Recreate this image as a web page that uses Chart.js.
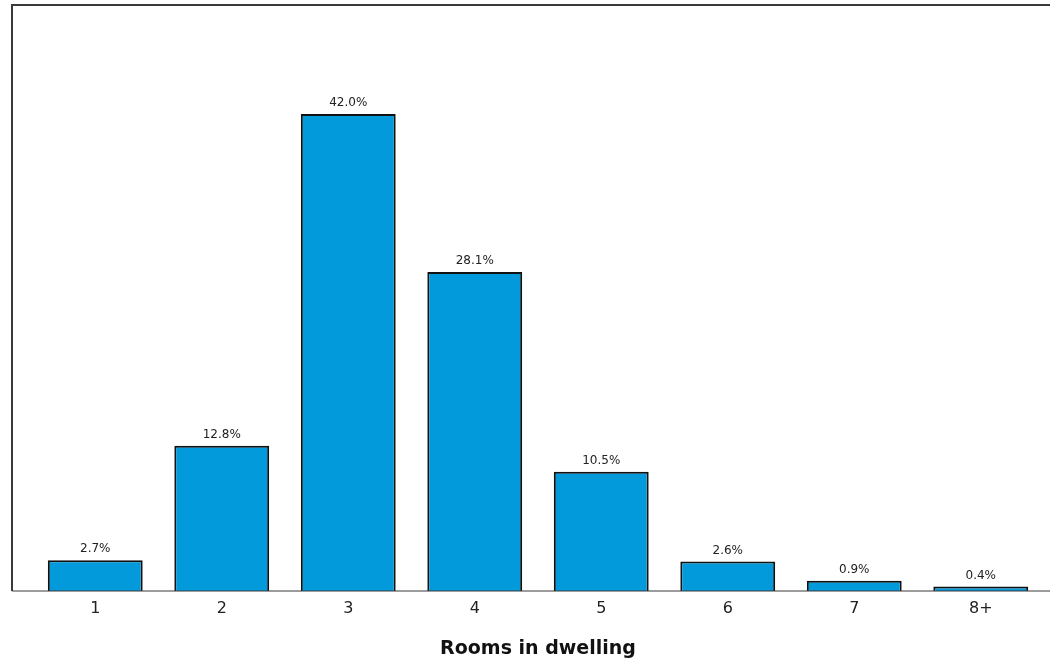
<!DOCTYPE html>
<html>
<head>
<meta charset="utf-8">
<script src="https://cdn.jsdelivr.net/npm/chart.js@4"></script>
<style>
  html, body { margin: 0; padding: 0; background: #fff; }
  #wrap { width: 1050px; height: 664px; }
</style>
</head>
<body>
<div id="wrap"><canvas id="grafico" width="1050" height="664"></canvas></div>
<script>
// Dados do gráfico
const rooms = ['1', '2', '3', '4', '5', '6', '7', '8+'];
const percent = [2.7, 12.8, 42.0, 28.1, 10.5, 2.6, 0.9, 0.4];
const axisTitle = 'Rooms in dwelling';

// Moldura: linha superior, esquerda e linha de base
const frame = {
    id: 'frame',
    afterDraw(chart) {
        const c = chart.ctx;
        const base = chart.scales.y.getPixelForValue(0);
        c.save();
        c.strokeStyle = '#3a3a3a';
        c.lineWidth = 2;
        c.beginPath();
        c.moveTo(1050, 5);
        c.lineTo(12, 5);
        c.lineTo(12, base);
        c.stroke();
        c.lineWidth = 1.2;
        c.beginPath();
        c.moveTo(12, base);
        c.lineTo(1050, base);
        c.stroke();
        c.restore();
    }
};

// Rótulos de porcentagem acima das barras
const valueLabels = {
    id: 'valueLabels',
    afterDatasetsDraw(chart) {
        const c = chart.ctx;
        const meta = chart.getDatasetMeta(0);
        c.save();
        c.font = '12px "DejaVu Sans"';
        c.fillStyle = '#222';
        c.textAlign = 'center';
        c.textBaseline = 'bottom';
        meta.data.forEach((bar, i) => {
            c.fillText(percent[i].toFixed(1) + '%', bar.x, bar.y - 5);
        });
        c.restore();
    }
};

const ctx = document.getElementById('grafico').getContext('2d');
new Chart(ctx, {
    type: 'bar',
    data: {
        labels: rooms,
        datasets: [{
            data: percent,
            backgroundColor: '#029ada',
            borderColor: '#111',
            borderWidth: 2,
            barPercentage: 0.75,
            categoryPercentage: 1.0
        }]
    },
    options: {
        responsive: false,
        animation: false,
        devicePixelRatio: 1,
        layout: { padding: { left: 32, right: 6, top: 5, bottom: 4 } },
        plugins: {
            legend: { display: false },
            tooltip: { enabled: false }
        },
        scales: {
            x: {
                grid: { display: false },
                border: { display: false },
                ticks: {
                    color: '#222',
                    font: { family: 'DejaVu Sans', size: 16 },
                    padding: 0
                },
                title: {
                    display: true,
                    text: axisTitle,
                    color: '#111',
                    font: { family: 'DejaVu Sans', size: 19, weight: 'bold' },
                    padding: { top: 19, bottom: 0 }
                }
            },
            y: {
                display: false,
                min: 0,
                max: 51.6
            }
        }
    },
    plugins: [frame, valueLabels]
});
</script>
</body>
</html>
